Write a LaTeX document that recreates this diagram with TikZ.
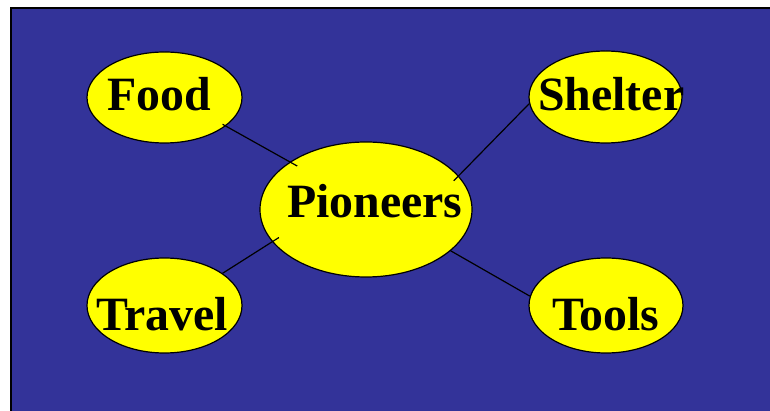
\documentclass[tikz,border=0pt]{standalone}
\usepackage{fontspec}
\setmainfont{Liberation Serif}
\usetikzlibrary{shapes.geometric}
\definecolor{slide}{HTML}{333399}
\definecolor{bubble}{HTML}{FFFF00}
\tikzset{
  topic/.style={ellipse, draw=black, line width=1.2pt, fill=bubble, inner sep=0pt},
  word/.style={anchor=base west, inner sep=0pt, font=\fontsize{47.8}{48}\selectfont\bfseries},
  link/.style={draw=black, line width=1.2pt}
}
\begin{document}
\begin{tikzpicture}[x=1pt, y=-1pt]
  \useasboundingbox (0,0) rectangle (770,411);
  \clip (0,0) rectangle (770,411);
  % slide background
  \fill[slide] (11,8) rectangle (790,430);
  \draw[black, line width=2pt] (11,430) -- (11,8) -- (790,8);

  % bubbles
  \node[topic, minimum width=155pt, minimum height=91pt] (food)    at (164.5,97.5) {};
  \node[topic, minimum width=153pt, minimum height=92pt] (shelter) at (605.5,97)   {};
  \node[topic, minimum width=155pt, minimum height=95pt] (travel)  at (164.5,305.5) {};
  \node[topic, minimum width=154pt, minimum height=95pt] (tools)   at (606,305.5)  {};
  \node[topic, minimum width=212pt, minimum height=135pt] (pio)    at (366,209.5)  {};

  % connectors
  \draw[link, shorten <=-3.7pt, shorten >=-8.5pt] (food.-25) -- (pio.148.6);
  \draw[link, shorten >=-7pt] (shelter.185) -- (pio.20);
  \draw[link, shorten >=-8pt] (travel.29.5) -- (pio.199.4);
  \draw[link] (pio.-26.3) -- (tools.173.7);

  % labels
  \node[word] (foodtext)    at (107,111) {Food};
  \node[word] (sheltertext) at (538,111) {Shelter};
  \node[word] (traveltext)  at (96,330)  {Travel};
  \node[word] (toolstext)   at (552,330) {Tools};
  \node[word] (piotext)     at (287,218) {Pioneers};
\end{tikzpicture}
\end{document}
